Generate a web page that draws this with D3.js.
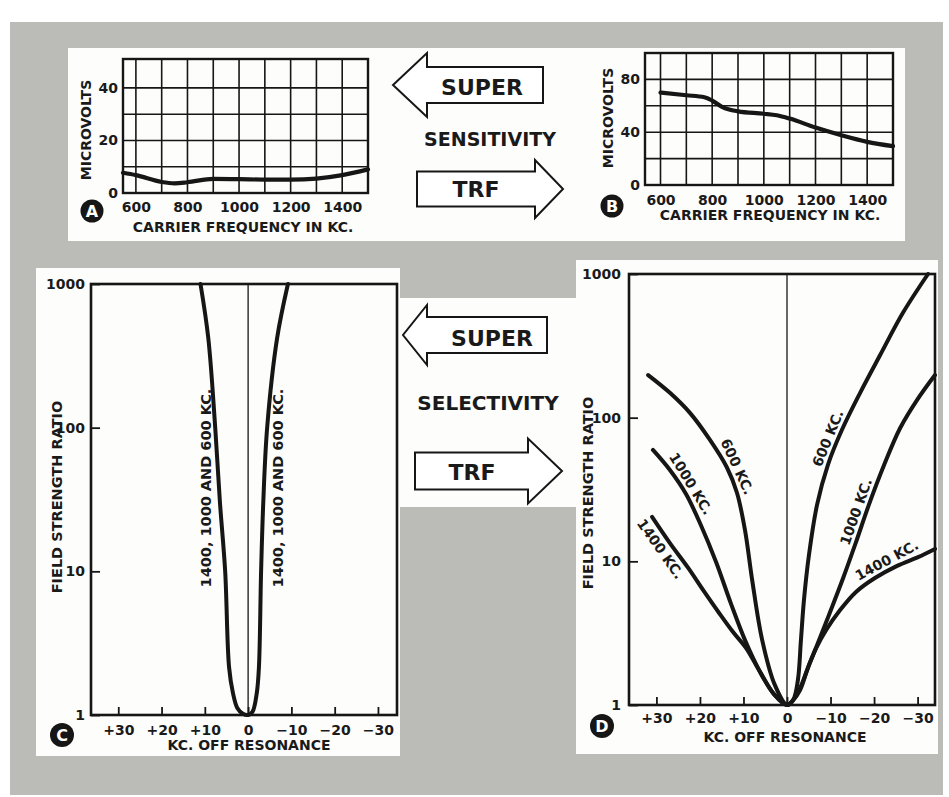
<!DOCTYPE html>
<html>
<head>
<meta charset="utf-8">
<script src="https://cdn.jsdelivr.net/npm/d3@7"></script>
<style>
  body { margin: 0; background: #fff; }
  svg text { font-family: "DejaVu Sans", sans-serif; font-weight: bold; fill: #1a1a1a; }
</style>
</head>
<body>
<svg id="fig" width="949" height="797"></svg>
<script>
// ---- values ----
// A: sensitivity, superheterodyne
const freqA = [550, 600, 700, 750, 800, 900, 1000, 1100, 1200, 1300, 1400, 1500]
const microvoltsA = [7.7, 6.8, 4.2, 3.7, 4.1, 5.4, 5.3, 5.1, 5.1, 5.5, 6.8, 9.0]
// B: sensitivity, TRF
const freqB = [600, 700, 770, 800, 840, 900, 1000, 1050, 1100, 1200, 1300, 1400, 1500]
const microvoltsB = [70, 68, 66.5, 64, 59, 55.8, 54, 52.8, 50.3, 43.5, 37.7, 32.7, 29.4]
const freqTicks = [600, 800, 1000, 1200, 1400]
const freqGrid = [600, 700, 800, 900, 1000, 1100, 1200, 1300, 1400]
const uvTicksA = [0, 20, 40]
const uvGridA = [10, 20, 30, 40]
const uvTicksB = [0, 40, 80]
const uvGridB = [20, 40, 60, 80]

// C: selectivity, super (same curve for 1400, 1000 and 600 kc)
const kcC = [11, 9.2, 7.6, 6.5, 5.3, 4.4, 3.5, 2.5, 1.2, 0, -1, -2, -2.5, -3, -3.5, -4.4, -6.7, -9.2]
const ratioC = [1000, 420, 100, 30, 10, 2.15, 1.42, 1.12, 1.02, 1, 1.05, 1.42, 2.15, 10, 30, 100, 420, 1000]

// D: selectivity, TRF
const kc600 = [31.9, 26.9, 22.3, 17.7, 13.8, 11.5, 9.65, 8.0, 5.7, 2.8, 0, -1.4, -2.5, -3.2, -3.9, -5.05, -6.9, -9.4, -12.6, -16.8, -21.4, -26.6, -32.4]
const ratio600 = [198, 149, 108, 70, 45, 30, 16.5, 7.4, 2.83, 1.38, 1, 1.08, 1.49, 2.83, 5.4, 11.1, 24.7, 47, 82, 149, 273, 535, 1000]
const kc1000 = [30.8, 26.9, 23.2, 19.8, 16.3, 12.9, 9.65, 6.2, 3.0, 0, -1.4, -3.0, -4.8, -7.1, -9.9, -12.9, -15.85, -18.8, -22.3, -26, -29.9, -34]
const ratio1000 = [59.6, 43.2, 29.4, 17.9, 9.9, 5.1, 2.83, 1.7, 1.19, 1, 1.08, 1.27, 1.81, 2.7, 4.44, 7.65, 13.6, 24.7, 46.8, 84.7, 133, 198]
const kc1400 = [31, 26.9, 22.7, 19.1, 15.6, 12.4, 9.4, 6.2, 3.0, 0, -1.4, -3.0, -4.8, -6.7, -9.0, -12.2, -15.85, -20.2, -25.3, -30.1, -34]
const ratio1400 = [20.4, 13.4, 9.0, 6.2, 4.37, 3.22, 2.49, 1.7, 1.19, 1, 1.08, 1.31, 1.81, 2.49, 3.33, 4.58, 6.12, 7.65, 9.3, 10.7, 12.2]

const kcTicks = [30, 20, 10, 0, -10, -20, -30]
const ratioTicks = [1, 10, 100, 1000]

const ink = "#161616"
const svg = d3.select("#fig")

// ---- page: grey board with white cut-outs ----
svg.append("rect").attr("x", 10).attr("y", 22).attr("width", 933).attr("height", 773).attr("fill", "#bbbbb7")
const panels = [[68, 48, 837, 193], [36, 268, 364, 488], [400, 298, 176, 209], [576, 260, 362, 494]]
svg.selectAll("rect.panel").data(panels).join("rect")
  .attr("class", "panel")
  .attr("x", d => d[0]).attr("y", d => d[1]).attr("width", d => d[2]).attr("height", d => d[3])
  .attr("fill", "#fdfdfb")

function frame(g, x, y, w) {
  g.append("rect")
    .attr("x", x.range()[0]).attr("y", y.range()[1])
    .attr("width", x.range()[1] - x.range()[0]).attr("height", y.range()[0] - y.range()[1])
    .attr("fill", "none").attr("stroke", ink).attr("stroke-width", w)
}

function badge(letter, cx, cy, r) {
  svg.append("circle").attr("cx", cx).attr("cy", cy).attr("r", r).attr("fill", ink)
  svg.append("text").attr("x", cx).attr("y", cy).attr("dy", "0.36em")
    .attr("text-anchor", "middle").attr("font-size", 16)
    .style("fill", "#fff").text(letter)
}

function vtitle(text, cx, cy, size) {
  svg.append("text").attr("transform", `translate(${cx},${cy}) rotate(-90)`)
    .attr("text-anchor", "middle").attr("dy", "0.36em").attr("font-size", size).text(text)
}

function htitle(text, cx, cy, size) {
  svg.append("text").attr("x", cx).attr("y", cy).attr("dy", "0.36em")
    .attr("text-anchor", "middle").attr("font-size", size).text(text)
}

function cleanAxis(g, size) {
  g.select(".domain").remove()
  g.attr("font-size", size).attr("font-family", null)
}

// ---- sensitivity panels (A, B) ----
function sensitivity(x, y, freqs, uv, uvTicks, uvGrid, padX) {
  const g = svg.append("g")
  g.selectAll("line.v").data(freqGrid).join("line")
    .attr("x1", d => x(d)).attr("x2", d => x(d))
    .attr("y1", y.range()[0]).attr("y2", y.range()[1])
    .attr("stroke", ink).attr("stroke-width", 1.6)
  g.selectAll("line.h").data(uvGrid).join("line")
    .attr("x1", x.range()[0]).attr("x2", x.range()[1])
    .attr("y1", d => y(d)).attr("y2", d => y(d))
    .attr("stroke", ink).attr("stroke-width", 1.6)
  frame(g, x, y, 2.4)

  g.append("g").attr("transform", `translate(0,${y.range()[0]})`)
    .call(d3.axisBottom(x).tickValues(freqTicks).tickSize(0).tickPadding(padX).tickFormat(d3.format("d")))
    .call(a => cleanAxis(a, 14))
  g.append("g").attr("transform", `translate(${x.range()[0]},0)`)
    .call(d3.axisLeft(y).tickValues(uvTicks).tickSize(0).tickPadding(5))
    .call(a => cleanAxis(a, 14))

  const line = d3.line().x(d => x(d[0])).y(d => y(d[1])).curve(d3.curveMonotoneX)
  g.append("path").datum(d3.zip(freqs, uv))
    .attr("d", line).attr("fill", "none").attr("stroke", ink)
    .attr("stroke-width", 4.2).attr("stroke-linecap", "round")
}

const xA = d3.scaleLinear().domain([550, 1500]).range([123, 368])
const yA = d3.scaleLinear().domain([0, 51]).range([193, 59])
sensitivity(xA, yA, freqA, microvoltsA, uvTicksA, uvGridA, 9)
vtitle("MICROVOLTS", 86, 130, 14)
htitle("CARRIER FREQUENCY IN KC.", 243, 227, 14)
badge("A", 92, 211, 11.5)

const xB = d3.scaleLinear().domain([540, 1500]).range([645, 893])
const yB = d3.scaleLinear().domain([0, 100]).range([185, 53])
sensitivity(xB, yB, freqB, microvoltsB, uvTicksB, uvGridB, 10)
vtitle("MICROVOLTS", 608, 118, 14)
htitle("CARRIER FREQUENCY IN KC.", 770, 215, 14)
badge("B", 612, 206, 11.5)

// ---- arrows ----
function arrow(xTail, xHeadBack, xTip, yc, shaft, head) {
  const s = shaft / 2, h = head / 2
  const pts = [[xTail, yc - s], [xHeadBack, yc - s], [xHeadBack, yc - h], [xTip, yc],
               [xHeadBack, yc + h], [xHeadBack, yc + s], [xTail, yc + s]]
  svg.append("path").attr("d", d3.line()(pts) + "Z")
    .attr("fill", "#fff").attr("stroke", ink).attr("stroke-width", 2).attr("stroke-linejoin", "miter")
}
function word(text, cx, baseline, size) {
  svg.append("text").attr("x", cx).attr("y", baseline).attr("text-anchor", "middle")
    .attr("font-size", size).text(text)
}

arrow(543, 427, 393, 85, 36, 64)
word("SUPER", 482, 95, 22)
word("SENSITIVITY", 490, 146, 19)
arrow(417, 535, 563, 189, 35, 58)
word("TRF", 476, 197, 22)

arrow(547, 427, 403, 335, 36, 60)
word("SUPER", 492, 346, 22)
word("SELECTIVITY", 488, 410, 20)
arrow(415, 528, 562, 471, 37, 65)
word("TRF", 472, 480, 22)

// ---- selectivity panels (C, D) ----
function branchPts(kcs, ratios, sign) {
  return d3.zip(kcs, ratios).filter(p => Math.sign(p[0]) === sign)
}
function ratioAtKc(pts, kc) {
  for (let i = 0; i < pts.length - 1; i++) {
    const [k0, r0] = pts[i], [k1, r1] = pts[i + 1]
    if ((kc - k0) * (kc - k1) <= 0) {
      const t = (kc - k0) / (k1 - k0)
      return Math.exp(Math.log(r0) + t * (Math.log(r1) - Math.log(r0)))
    }
  }
  return pts[pts.length - 1][1]
}
function kcAtRatio(pts, r) {
  for (let i = 0; i < pts.length - 1; i++) {
    const [k0, r0] = pts[i], [k1, r1] = pts[i + 1]
    if ((r - r0) * (r - r1) <= 0) {
      const t = (Math.log(r) - Math.log(r0)) / (Math.log(r1) - Math.log(r0))
      return k0 + t * (k1 - k0)
    }
  }
  return pts[0][0]
}

function selectivity(x, y, padX, padY) {
  const g = svg.append("g")
  g.append("line").attr("x1", x(0)).attr("x2", x(0))
    .attr("y1", y.range()[0]).attr("y2", y.range()[1])
    .attr("stroke", ink).attr("stroke-width", 1.3)
  frame(g, x, y, 2.6)
  g.append("g").attr("transform", `translate(0,${y.range()[0]})`)
    .call(d3.axisBottom(x).tickValues(kcTicks).tickSizeInner(-8).tickSizeOuter(0).tickPadding(padX)
      .tickFormat(d => d > 0 ? "+" + d : d < 0 ? "\u2212" + (-d) : "0"))
    .call(a => cleanAxis(a, 14))
    .call(a => a.selectAll("line").attr("stroke", ink).attr("stroke-width", 1.8))
  g.append("g").attr("transform", `translate(${x.range()[0]},0)`)
    .call(d3.axisLeft(y).tickValues(ratioTicks).tickSizeInner(-9).tickSizeOuter(0).tickPadding(padY)
      .tickFormat(d3.format("d")))
    .call(a => cleanAxis(a, 14))
    .call(a => a.selectAll("line").attr("stroke", ink).attr("stroke-width", 1.8))
  return g
}

const curveLine = (x, y) => d3.line().x(d => x(d[0])).y(d => y(d[1])).curve(d3.curveCatmullRom.alpha(0.5))

// C
const xC = d3.scaleLinear().domain([36.3, -34.4]).range([91, 397])
const yC = d3.scaleLog().domain([1, 1000]).range([715, 284])
const gC = selectivity(xC, yC, 10, 6)
gC.append("path").datum(d3.zip(kcC, ratioC))
  .attr("d", curveLine(xC, yC)).attr("fill", "none").attr("stroke", ink)
  .attr("stroke-width", 4).attr("stroke-linecap", "round")
const labelRatioC = 38
;[[1, -13], [-1, 14]].forEach(([sign, off]) => {
  const kc = kcAtRatio(branchPts(kcC, ratioC, sign), labelRatioC)
  svg.append("text")
    .attr("transform", `translate(${xC(kc) + off},${yC(labelRatioC)}) rotate(-90)`)
    .attr("text-anchor", "middle").attr("dy", "0.36em").attr("font-size", 14.5)
    .text("1400, 1000 AND 600 KC.")
})
vtitle("FIELD STRENGTH RATIO", 57, 497, 14.5)
htitle("KC. OFF RESONANCE", 249, 745, 14)
badge("C", 62, 735, 12)

// D
const xD = d3.scaleLinear().domain([36.3, -34]).range([629, 935])
const yD = d3.scaleLog().domain([1, 1000]).range([705, 274])
const gD = selectivity(xD, yD, 8, 8)
const curvesD = [
  { name: "600 KC.", kc: kc600, ratio: ratio600 },
  { name: "1000 KC.", kc: kc1000, ratio: ratio1000 },
  { name: "1400 KC.", kc: kc1400, ratio: ratio1400 }
]
gD.selectAll("path.curve").data(curvesD).join("path")
  .attr("class", "curve")
  .attr("d", d => curveLine(xD, yD)(d3.zip(d.kc, d.ratio)))
  .attr("fill", "none").attr("stroke", ink).attr("stroke-width", 4).attr("stroke-linecap", "round")

// where each curve label sits (kc along the curve) and how far off the curve
const labelsD = [
  { curve: 0, kc: 13.5, off: -5 },
  { curve: 1, kc: 24, off: -5 },
  { curve: 2, kc: 27, off: 16 },
  { curve: 0, kc: -11.5, off: -5 },
  { curve: 1, kc: -18, off: -5 },
  { curve: 2, kc: -24, off: -5 }
]
labelsD.forEach(l => {
  const c = curvesD[l.curve]
  const pts = branchPts(c.kc, c.ratio, Math.sign(l.kc))
  const p = [xD(l.kc), yD(ratioAtKc(pts, l.kc))]
  const a = [xD(l.kc + 1.5), yD(ratioAtKc(pts, l.kc + 1.5))]
  const b = [xD(l.kc - 1.5), yD(ratioAtKc(pts, l.kc - 1.5))]
  const ang = Math.atan2(b[1] - a[1], b[0] - a[0]) * 180 / Math.PI
  svg.append("text")
    .attr("transform", `translate(${p[0]},${p[1]}) rotate(${ang})`)
    .attr("text-anchor", "middle").attr("dy", l.off).attr("font-size", 14)
    .text(c.name)
})
vtitle("FIELD STRENGTH RATIO", 588, 493, 14.5)
htitle("KC. OFF RESONANCE", 785, 737, 14)
badge("D", 602, 726, 12)
</script>
</body>
</html>
